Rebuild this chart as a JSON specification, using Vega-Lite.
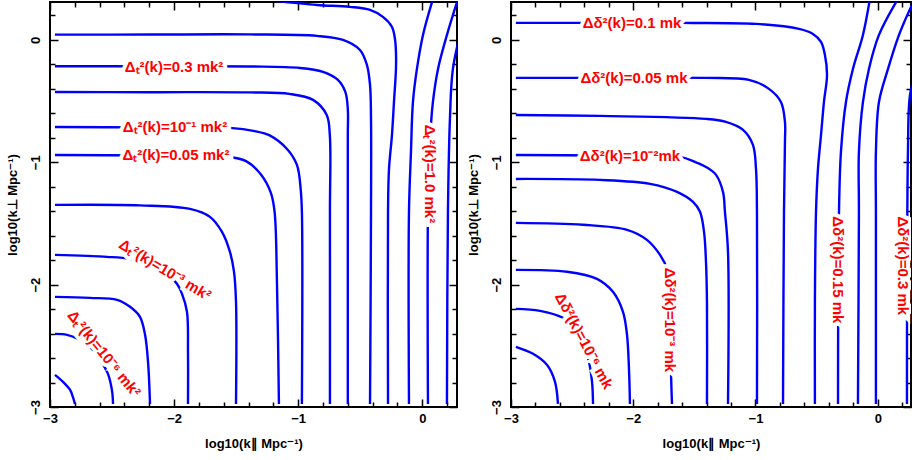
{
"$schema": "https://vega.github.io/schema/vega-lite/v6.json",
"padding": {"left": 4, "top": 0, "right": 0, "bottom": 0},
"bounds": "flush",
"spacing": 54,
"config": {
  "view": {"stroke": "#000000", "strokeWidth": 2},
  "axis": {"domain": false, "grid": false, "tickColor": "#000000", "tickWidth": 1.5, "labelFont": "Liberation Sans", "labelFontSize": 13, "labelFontWeight": "bold", "labelColor": "#000000", "titleFont": "Liberation Sans", "titleFontSize": 13, "titleFontWeight": "bold", "titleColor": "#000000", "labelOverlap": false, "labelFlush": false}
},
"resolve": {"scale": {"x": "independent", "y": "independent", "angle": "independent"}},
"datasets": {
"left": [
{"c":"L1","o":0,"x":-2.96,"y":0.043},{"c":"L1","o":1,"x":-2.2,"y":0.044},{"c":"L1","o":2,"x":-1.39,"y":0.045},{"c":"L1","o":3,"x":-0.848,"y":0.033},{"c":"L1","o":4,"x":-0.639,"y":0.0},{"c":"L1","o":5,"x":-0.502,"y":-0.082},{"c":"L1","o":6,"x":-0.446,"y":-0.204},{"c":"L1","o":7,"x":-0.421,"y":-0.368},{"c":"L1","o":8,"x":-0.413,"y":-0.645},{"c":"L1","o":9,"x":-0.413,"y":-1.405},{"c":"L1","o":10,"x":-0.421,"y":-2.975},
{"c":"L2","o":0,"x":-2.96,"y":-0.215},{"c":"L2","o":1,"x":-2.2,"y":-0.216},{"c":"L2","o":2,"x":-1.39,"y":-0.217},{"c":"L2","o":3,"x":-0.985,"y":-0.229},{"c":"L2","o":4,"x":-0.8,"y":-0.261},{"c":"L2","o":5,"x":-0.68,"y":-0.327},{"c":"L2","o":6,"x":-0.62,"y":-0.425},{"c":"L2","o":7,"x":-0.6,"y":-0.564},{"c":"L2","o":8,"x":-0.6,"y":-0.776},{"c":"L2","o":9,"x":-0.6,"y":-1.405},{"c":"L2","o":10,"x":-0.6,"y":-2.975},
{"c":"L3","o":0,"x":-2.96,"y":-0.425},{"c":"L3","o":1,"x":-2.2,"y":-0.427},{"c":"L3","o":2,"x":-1.39,"y":-0.429},{"c":"L3","o":3,"x":-1.07,"y":-0.441},{"c":"L3","o":4,"x":-0.88,"y":-0.49},{"c":"L3","o":5,"x":-0.77,"y":-0.613},{"c":"L3","o":6,"x":-0.745,"y":-0.776},{"c":"L3","o":7,"x":-0.744,"y":-1.405},{"c":"L3","o":8,"x":-0.744,"y":-2.975},
{"c":"L4","o":0,"x":-2.96,"y":-0.711},{"c":"L4","o":1,"x":-2.25,"y":-0.715},{"c":"L4","o":2,"x":-1.55,"y":-0.719},{"c":"L4","o":3,"x":-1.35,"y":-0.745},{"c":"L4","o":4,"x":-1.23,"y":-0.78},{"c":"L4","o":5,"x":-1.09,"y":-0.891},{"c":"L4","o":6,"x":-1.01,"y":-1.021},{"c":"L4","o":7,"x":-0.98,"y":-1.217},{"c":"L4","o":8,"x":-0.97,"y":-1.405},{"c":"L4","o":9,"x":-0.97,"y":-2.975},
{"c":"L5","o":0,"x":-2.96,"y":-0.94},{"c":"L5","o":1,"x":-2.2,"y":-0.945},{"c":"L5","o":2,"x":-1.6,"y":-0.952},{"c":"L5","o":3,"x":-1.42,"y":-0.99},{"c":"L5","o":4,"x":-1.3,"y":-1.1},{"c":"L5","o":5,"x":-1.22,"y":-1.25},{"c":"L5","o":6,"x":-1.19,"y":-1.405},{"c":"L5","o":7,"x":-1.171,"y":-1.977},{"c":"L5","o":8,"x":-1.155,"y":-2.975},
{"c":"L6","o":0,"x":-2.96,"y":-1.348},{"c":"L6","o":1,"x":-2.275,"y":-1.352},{"c":"L6","o":2,"x":-1.872,"y":-1.381},{"c":"L6","o":3,"x":-1.711,"y":-1.446},{"c":"L6","o":4,"x":-1.614,"y":-1.569},{"c":"L6","o":5,"x":-1.55,"y":-1.732},{"c":"L6","o":6,"x":-1.517,"y":-1.895},{"c":"L6","o":7,"x":-1.501,"y":-2.141},{"c":"L6","o":8,"x":-1.501,"y":-2.975},
{"c":"L7","o":0,"x":-2.96,"y":-1.757},{"c":"L7","o":1,"x":-2.541,"y":-1.773},{"c":"L7","o":2,"x":-2.355,"y":-1.789},{"c":"L7","o":3,"x":-2.194,"y":-1.83},{"c":"L7","o":4,"x":-2.073,"y":-1.895},{"c":"L7","o":5,"x":-1.977,"y":-1.993},{"c":"L7","o":6,"x":-1.936,"y":-2.075},{"c":"L7","o":7,"x":-1.896,"y":-2.222},{"c":"L7","o":8,"x":-1.888,"y":-2.549},{"c":"L7","o":9,"x":-1.888,"y":-2.975},
{"c":"L8","o":0,"x":-2.96,"y":-2.1},{"c":"L8","o":1,"x":-2.678,"y":-2.108},{"c":"L8","o":2,"x":-2.46,"y":-2.124},{"c":"L8","o":3,"x":-2.355,"y":-2.181},{"c":"L8","o":4,"x":-2.275,"y":-2.263},{"c":"L8","o":5,"x":-2.234,"y":-2.41},{"c":"L8","o":6,"x":-2.21,"y":-2.631},{"c":"L8","o":7,"x":-2.194,"y":-2.975},
{"c":"L9","o":0,"x":-2.96,"y":-2.402},{"c":"L9","o":1,"x":-2.863,"y":-2.41},{"c":"L9","o":2,"x":-2.774,"y":-2.443},{"c":"L9","o":3,"x":-2.678,"y":-2.508},{"c":"L9","o":4,"x":-2.597,"y":-2.614},{"c":"L9","o":5,"x":-2.533,"y":-2.729},{"c":"L9","o":6,"x":-2.5,"y":-2.868},{"c":"L9","o":7,"x":-2.492,"y":-2.975},
{"c":"L10","o":0,"x":-2.96,"y":-2.737},{"c":"L10","o":1,"x":-2.895,"y":-2.794},{"c":"L10","o":2,"x":-2.839,"y":-2.859},{"c":"L10","o":3,"x":-2.815,"y":-2.92},{"c":"L10","o":4,"x":-2.799,"y":-2.975},
{"c":"A","o":0,"x":-1.187,"y":0.319},{"c":"A","o":1,"x":-0.848,"y":0.286},{"c":"A","o":2,"x":-0.583,"y":0.27},{"c":"A","o":3,"x":-0.421,"y":0.245},{"c":"A","o":4,"x":-0.317,"y":0.188},{"c":"A","o":5,"x":-0.244,"y":0.106},{"c":"A","o":6,"x":-0.22,"y":0.008},{"c":"A","o":7,"x":-0.212,"y":-0.098},{"c":"A","o":8,"x":-0.212,"y":-0.237},{"c":"A","o":9,"x":-0.228,"y":-0.507},{"c":"A","o":10,"x":-0.244,"y":-0.776},{"c":"A","o":11,"x":-0.268,"y":-1.054},{"c":"A","o":12,"x":-0.276,"y":-1.405},{"c":"A","o":13,"x":-0.276,"y":-2.975},
{"c":"T1","o":0,"x":0.086,"y":0.335},{"c":"T1","o":1,"x":0.006,"y":0.041},{"c":"T1","o":2,"x":-0.043,"y":-0.237},{"c":"T1","o":3,"x":-0.075,"y":-0.507},{"c":"T1","o":4,"x":-0.091,"y":-0.915},{"c":"T1","o":5,"x":-0.107,"y":-1.405},{"c":"T1","o":6,"x":-0.107,"y":-2.975},
{"c":"T2","o":0,"x":0.288,"y":0.335},{"c":"T2","o":1,"x":0.199,"y":0.041},{"c":"T2","o":2,"x":0.127,"y":-0.237},{"c":"T2","o":3,"x":0.086,"y":-0.507},{"c":"T2","o":4,"x":0.062,"y":-0.833},{"c":"T2","o":5,"x":0.046,"y":-1.405},{"c":"T2","o":6,"x":0.046,"y":-2.975},
{"c":"T3","o":0,"x":0.32,"y":0.106},{"c":"T3","o":1,"x":0.247,"y":-0.237},{"c":"T3","o":2,"x":0.223,"y":-0.645},{"c":"T3","o":3,"x":0.207,"y":-1.405},{"c":"T3","o":4,"x":0.199,"y":-2.975}
],
"right": [
{"c":"H1","o":0,"x":-2.96,"y":0.139},{"c":"H1","o":1,"x":-2.411,"y":0.139},{"c":"H1","o":2,"x":-1.618,"y":0.139},{"c":"H1","o":3,"x":-0.996,"y":0.131},{"c":"H1","o":4,"x":-0.644,"y":0.09},{"c":"H1","o":5,"x":-0.53,"y":0.049},{"c":"H1","o":6,"x":-0.464,"y":-0.016},{"c":"H1","o":7,"x":-0.432,"y":-0.123},{"c":"H1","o":8,"x":-0.415,"y":-0.286},{"c":"H1","o":9,"x":-0.44,"y":-0.507},{"c":"H1","o":10,"x":-0.464,"y":-0.776},{"c":"H1","o":11,"x":-0.489,"y":-1.054},{"c":"H1","o":12,"x":-0.505,"y":-1.405},{"c":"H1","o":13,"x":-0.514,"y":-2.141},{"c":"H1","o":14,"x":-0.514,"y":-2.975},
{"c":"H2","o":0,"x":-2.96,"y":-0.31},{"c":"H2","o":1,"x":-2.2,"y":-0.31},{"c":"H2","o":2,"x":-1.405,"y":-0.31},{"c":"H2","o":3,"x":-1.053,"y":-0.327},{"c":"H2","o":4,"x":-0.89,"y":-0.4},{"c":"H2","o":5,"x":-0.792,"y":-0.507},{"c":"H2","o":6,"x":-0.759,"y":-0.67},{"c":"H2","o":7,"x":-0.759,"y":-0.833},{"c":"H2","o":8,"x":-0.767,"y":-1.405},{"c":"H2","o":9,"x":-0.775,"y":-2.975},
{"c":"H3","o":0,"x":-2.96,"y":-0.613},{"c":"H3","o":1,"x":-2.272,"y":-0.621},{"c":"H3","o":2,"x":-1.405,"y":-0.645},{"c":"H3","o":3,"x":-1.242,"y":-0.67},{"c":"H3","o":4,"x":-1.102,"y":-0.735},{"c":"H3","o":5,"x":-1.021,"y":-0.858},{"c":"H3","o":6,"x":-0.996,"y":-1.054},{"c":"H3","o":7,"x":-0.988,"y":-1.405},{"c":"H3","o":8,"x":-0.988,"y":-2.975},
{"c":"H4","o":0,"x":-2.96,"y":-0.94},{"c":"H4","o":1,"x":-2.3,"y":-0.945},{"c":"H4","o":2,"x":-1.618,"y":-0.956},{"c":"H4","o":3,"x":-1.495,"y":-0.997},{"c":"H4","o":4,"x":-1.405,"y":-1.038},{"c":"H4","o":5,"x":-1.323,"y":-1.103},{"c":"H4","o":6,"x":-1.266,"y":-1.242},{"c":"H4","o":7,"x":-1.25,"y":-1.405},{"c":"H4","o":8,"x":-1.225,"y":-1.732},{"c":"H4","o":9,"x":-1.225,"y":-2.975},
{"c":"H5","o":0,"x":-2.96,"y":-1.136},{"c":"H5","o":1,"x":-2.272,"y":-1.144},{"c":"H5","o":2,"x":-1.863,"y":-1.176},{"c":"H5","o":3,"x":-1.642,"y":-1.242},{"c":"H5","o":4,"x":-1.511,"y":-1.324},{"c":"H5","o":5,"x":-1.454,"y":-1.405},{"c":"H5","o":6,"x":-1.421,"y":-1.569},{"c":"H5","o":7,"x":-1.405,"y":-1.814},{"c":"H5","o":8,"x":-1.397,"y":-2.141},{"c":"H5","o":9,"x":-1.397,"y":-2.975},
{"c":"H6","o":0,"x":-2.96,"y":-1.495},{"c":"H6","o":1,"x":-2.411,"y":-1.511},{"c":"H6","o":2,"x":-2.051,"y":-1.552},{"c":"H6","o":3,"x":-1.888,"y":-1.634},{"c":"H6","o":4,"x":-1.781,"y":-1.757},{"c":"H6","o":5,"x":-1.724,"y":-1.871},{"c":"H6","o":6,"x":-1.7,"y":-2.059},{"c":"H6","o":7,"x":-1.691,"y":-2.386},{"c":"H6","o":8,"x":-1.691,"y":-2.712},{"c":"H6","o":9,"x":-1.683,"y":-2.975},
{"c":"H7","o":0,"x":-2.96,"y":-1.879},{"c":"H7","o":1,"x":-2.542,"y":-1.895},{"c":"H7","o":2,"x":-2.297,"y":-1.953},{"c":"H7","o":3,"x":-2.166,"y":-2.059},{"c":"H7","o":4,"x":-2.084,"y":-2.222},{"c":"H7","o":5,"x":-2.051,"y":-2.41},{"c":"H7","o":6,"x":-2.035,"y":-2.688},{"c":"H7","o":7,"x":-2.027,"y":-2.975},
{"c":"H8","o":0,"x":-2.96,"y":-2.198},{"c":"H8","o":1,"x":-2.763,"y":-2.214},{"c":"H8","o":2,"x":-2.575,"y":-2.271},{"c":"H8","o":3,"x":-2.477,"y":-2.345},{"c":"H8","o":4,"x":-2.411,"y":-2.467},{"c":"H8","o":5,"x":-2.362,"y":-2.631},{"c":"H8","o":6,"x":-2.337,"y":-2.794},{"c":"H8","o":7,"x":-2.329,"y":-2.975},
{"c":"H9","o":0,"x":-2.96,"y":-2.508},{"c":"H9","o":1,"x":-2.82,"y":-2.565},{"c":"H9","o":2,"x":-2.706,"y":-2.655},{"c":"H9","o":3,"x":-2.64,"y":-2.794},{"c":"H9","o":4,"x":-2.616,"y":-2.975},
{"c":"T1","o":0,"x":-0.064,"y":0.335},{"c":"T1","o":1,"x":-0.121,"y":0.041},{"c":"T1","o":2,"x":-0.203,"y":-0.237},{"c":"T1","o":3,"x":-0.26,"y":-0.507},{"c":"T1","o":4,"x":-0.301,"y":-0.915},{"c":"T1","o":5,"x":-0.317,"y":-1.405},{"c":"T1","o":6,"x":-0.325,"y":-2.975},
{"c":"T2","o":0,"x":0.165,"y":0.335},{"c":"T2","o":1,"x":0.01,"y":0.041},{"c":"T2","o":2,"x":-0.072,"y":-0.237},{"c":"T2","o":3,"x":-0.121,"y":-0.507},{"c":"T2","o":4,"x":-0.154,"y":-0.915},{"c":"T2","o":5,"x":-0.154,"y":-1.405},{"c":"T2","o":6,"x":-0.162,"y":-2.975},
{"c":"T3","o":0,"x":0.305,"y":0.335},{"c":"T3","o":1,"x":0.272,"y":0.27},{"c":"T3","o":2,"x":0.174,"y":0.041},{"c":"T3","o":3,"x":0.084,"y":-0.237},{"c":"T3","o":4,"x":0.01,"y":-0.507},{"c":"T3","o":5,"x":-0.015,"y":-0.915},{"c":"T3","o":6,"x":-0.015,"y":-1.405},{"c":"T3","o":7,"x":-0.015,"y":-2.975},
{"c":"T4","o":0,"x":0.313,"y":-0.261},{"c":"T4","o":1,"x":0.264,"y":-0.449},{"c":"T4","o":2,"x":0.247,"y":-0.915},{"c":"T4","o":3,"x":0.239,"y":-2.975}
],
"ltext": [
{"t":"Δₜ²(k)=0.3 mk²","x":-2.0,"y":-0.221,"d":"h"},
{"t":"Δₜ²(k)=10⁻¹ mk²","x":-1.993,"y":-0.711,"d":"h"},
{"t":"Δₜ²(k)=0.05 mk²","x":-1.985,"y":-0.94,"d":"h"},
{"t":"Δₜ²(k)=10⁻³ mk²","x":-2.073,"y":-1.879,"d":"a"},
{"t":"Δₜ²(k)=10⁻⁶ mk²","x":-2.565,"y":-2.565,"d":"b"},
{"t":"Δₜ²(k)=1.0 mk²","x":0.062,"y":-1.095,"d":"v"}
],
"rtext": [
{"t":"Δδ²(k)=0.1 mk","x":-2.01,"y":0.139,"d":"h"},
{"t":"Δδ²(k)=0.05 mk","x":-1.994,"y":-0.31,"d":"h"},
{"t":"Δδ²(k)=10⁻²mk","x":-2.027,"y":-0.948,"d":"h"},
{"t":"Δδ²(k)=10⁻³ mk","x":-1.7,"y":-2.288,"d":"v"},
{"t":"Δδ²(k)=10⁻⁶ mk","x":-2.403,"y":-2.459,"d":"c"},
{"t":"Δδ²(k)=0.15 mk","x":-0.325,"y":-1.879,"d":"v"},
{"t":"Δδ²(k)=0.3 mk","x":0.208,"y":-1.846,"d":"v"}
]
},
"hconcat": [
{
 "width": 407, "height": 405,
 "resolve": {"axis": {"x": "independent", "y": "independent"}},
 "layer": [
  {"data": {"name": "left"},
   "mark": {"type": "line", "color": "#0000ff", "strokeWidth": 2.4, "interpolate": "catmull-rom", "clip": true},
   "encoding": {
    "x": {"field": "x", "type": "quantitative", "scale": {"domain": [-3, 0.28], "nice": false, "zero": false},
      "axis": {"orient": "bottom", "values": [-3,-2.8,-2.6,-2.4,-2.2,-2,-1.8,-1.6,-1.4,-1.2,-1,-0.8,-0.6,-0.4,-0.2,0,0.2], "labelExpr": "abs(datum.value-round(datum.value))<0.01 ? (datum.value < -0.5 ? '−'+abs(round(datum.value)) : '0') : ''", "tickSize": {"condition": {"test": "abs(datum.value-round(datum.value))<0.01", "value": -8}, "value": -5}, "labelPadding": 13, "title": "log10(k∥ Mpc⁻¹)", "titlePadding": 9}},
    "y": {"field": "y", "type": "quantitative", "scale": {"domain": [-3, 0.31], "nice": false, "zero": false},
      "axis": {"orient": "left", "values": [-3,-2.8,-2.6,-2.4,-2.2,-2,-1.8,-1.6,-1.4,-1.2,-1,-0.8,-0.6,-0.4,-0.2,0,0.2], "labelExpr": "abs(datum.value-round(datum.value))<0.01 ? (datum.value < -0.5 ? '−'+abs(round(datum.value)) : '0') : ''", "tickSize": {"condition": {"test": "abs(datum.value-round(datum.value))<0.01", "value": -8}, "value": -5}, "labelAngle": 270, "labelAlign": "center", "labelBaseline": "middle", "labelPadding": 23, "title": "log10(k⊥ Mpc⁻¹)", "titlePadding": 7}},
    "detail": {"field": "c", "type": "nominal"},
    "order": {"field": "o", "type": "quantitative"}
   }},
  {"data": {"name": "ltext"},
   "mark": {"type": "text", "font": "Liberation Sans", "fontSize": 15, "fontWeight": "bold", "fill": "#ffffff", "stroke": "#ffffff", "strokeWidth": 8, "align": "center", "baseline": "middle", "clip": true},
   "encoding": {
    "x": {"field": "x", "type": "quantitative", "scale": {"domain": [-3, 0.28], "nice": false, "zero": false},
      "axis": {"orient": "top", "values": [-3,-2.8,-2.6,-2.4,-2.2,-2,-1.8,-1.6,-1.4,-1.2,-1,-0.8,-0.6,-0.4,-0.2,0,0.2], "labels": false, "tickSize": {"condition": {"test": "abs(datum.value-round(datum.value))<0.01", "value": -8}, "value": -5}, "title": null}},
    "y": {"field": "y", "type": "quantitative", "scale": {"domain": [-3, 0.31], "nice": false, "zero": false},
      "axis": {"orient": "right", "values": [-3,-2.8,-2.6,-2.4,-2.2,-2,-1.8,-1.6,-1.4,-1.2,-1,-0.8,-0.6,-0.4,-0.2,0,0.2], "labels": false, "tickSize": {"condition": {"test": "abs(datum.value-round(datum.value))<0.01", "value": -8}, "value": -5}, "title": null}},
    "text": {"field": "t", "type": "nominal"},
    "angle": {"field": "d", "type": "nominal", "scale": {"type": "ordinal", "domain": ["h","a","b","c","v"], "range": [0,31,51,62,90]}, "legend": null}
   }},
  {"data": {"name": "ltext"},
   "mark": {"type": "text", "font": "Liberation Sans", "fontSize": 15, "fontWeight": "bold", "fill": "#ff0000", "align": "center", "baseline": "middle", "clip": true},
   "encoding": {
    "x": {"field": "x", "type": "quantitative", "scale": {"domain": [-3, 0.28], "nice": false, "zero": false}, "axis": null},
    "y": {"field": "y", "type": "quantitative", "scale": {"domain": [-3, 0.31], "nice": false, "zero": false}, "axis": null},
    "text": {"field": "t", "type": "nominal"},
    "angle": {"field": "d", "type": "nominal", "scale": {"type": "ordinal", "domain": ["h","a","b","c","v"], "range": [0,31,51,62,90]}, "legend": null}
   }}
 ]
},
{
 "width": 400, "height": 405,
 "resolve": {"axis": {"x": "independent", "y": "independent"}},
 "layer": [
  {"data": {"name": "right"},
   "mark": {"type": "line", "color": "#0000ff", "strokeWidth": 2.4, "interpolate": "catmull-rom", "clip": true},
   "encoding": {
    "x": {"field": "x", "type": "quantitative", "scale": {"domain": [-3, 0.272], "nice": false, "zero": false},
      "axis": {"orient": "bottom", "values": [-3,-2.8,-2.6,-2.4,-2.2,-2,-1.8,-1.6,-1.4,-1.2,-1,-0.8,-0.6,-0.4,-0.2,0,0.2], "labelExpr": "abs(datum.value-round(datum.value))<0.01 ? (datum.value < -0.5 ? '−'+abs(round(datum.value)) : '0') : ''", "tickSize": {"condition": {"test": "abs(datum.value-round(datum.value))<0.01", "value": -8}, "value": -5}, "labelPadding": 13, "title": "log10(k∥ Mpc⁻¹)", "titlePadding": 9}},
    "y": {"field": "y", "type": "quantitative", "scale": {"domain": [-3, 0.31], "nice": false, "zero": false},
      "axis": {"orient": "left", "values": [-3,-2.8,-2.6,-2.4,-2.2,-2,-1.8,-1.6,-1.4,-1.2,-1,-0.8,-0.6,-0.4,-0.2,0,0.2], "labelExpr": "abs(datum.value-round(datum.value))<0.01 ? (datum.value < -0.5 ? '−'+abs(round(datum.value)) : '0') : ''", "tickSize": {"condition": {"test": "abs(datum.value-round(datum.value))<0.01", "value": -8}, "value": -5}, "labelAngle": 270, "labelAlign": "center", "labelBaseline": "middle", "labelPadding": 23, "title": "log10(k⊥ Mpc⁻¹)", "titlePadding": 7}},
    "detail": {"field": "c", "type": "nominal"},
    "order": {"field": "o", "type": "quantitative"}
   }},
  {"data": {"name": "rtext"},
   "mark": {"type": "text", "font": "Liberation Sans", "fontSize": 15, "fontWeight": "bold", "fill": "#ffffff", "stroke": "#ffffff", "strokeWidth": 8, "align": "center", "baseline": "middle", "clip": true},
   "encoding": {
    "x": {"field": "x", "type": "quantitative", "scale": {"domain": [-3, 0.272], "nice": false, "zero": false},
      "axis": {"orient": "top", "values": [-3,-2.8,-2.6,-2.4,-2.2,-2,-1.8,-1.6,-1.4,-1.2,-1,-0.8,-0.6,-0.4,-0.2,0,0.2], "labels": false, "tickSize": {"condition": {"test": "abs(datum.value-round(datum.value))<0.01", "value": -8}, "value": -5}, "title": null}},
    "y": {"field": "y", "type": "quantitative", "scale": {"domain": [-3, 0.31], "nice": false, "zero": false},
      "axis": {"orient": "right", "values": [-3,-2.8,-2.6,-2.4,-2.2,-2,-1.8,-1.6,-1.4,-1.2,-1,-0.8,-0.6,-0.4,-0.2,0,0.2], "labels": false, "tickSize": {"condition": {"test": "abs(datum.value-round(datum.value))<0.01", "value": -8}, "value": -5}, "title": null}},
    "text": {"field": "t", "type": "nominal"},
    "angle": {"field": "d", "type": "nominal", "scale": {"type": "ordinal", "domain": ["h","a","b","c","v"], "range": [0,31,51,62,90]}, "legend": null}
   }},
  {"data": {"name": "rtext"},
   "mark": {"type": "text", "font": "Liberation Sans", "fontSize": 15, "fontWeight": "bold", "fill": "#ff0000", "align": "center", "baseline": "middle", "clip": true},
   "encoding": {
    "x": {"field": "x", "type": "quantitative", "scale": {"domain": [-3, 0.272], "nice": false, "zero": false}, "axis": null},
    "y": {"field": "y", "type": "quantitative", "scale": {"domain": [-3, 0.31], "nice": false, "zero": false}, "axis": null},
    "text": {"field": "t", "type": "nominal"},
    "angle": {"field": "d", "type": "nominal", "scale": {"type": "ordinal", "domain": ["h","a","b","c","v"], "range": [0,31,51,62,90]}, "legend": null}
   }}
 ]
}
]
}
